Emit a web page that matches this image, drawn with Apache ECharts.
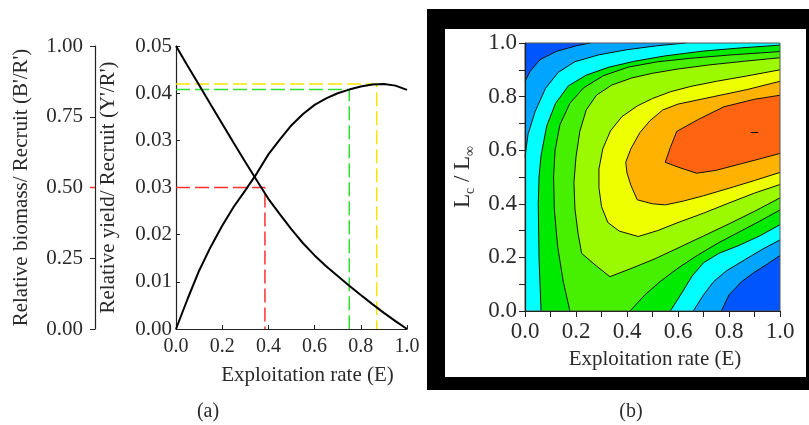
<!DOCTYPE html>
<html>
<head>
<meta charset="utf-8">
<script src="https://cdn.jsdelivr.net/npm/echarts/dist/echarts.min.js"></script>
<style>
html, body { margin: 0; padding: 0; background: #fff; }
#chart { width: 809px; height: 425px; }
</style>
</head>
<body>
<div id="chart"></div>
<script>
// (a) relative yield and biomass per recruit vs exploitation rate
var exploitation = [0, 0.05, 0.1, 0.15, 0.2, 0.25, 0.3, 0.35, 0.4, 0.45, 0.5,
                    0.55, 0.6, 0.65, 0.7, 0.75, 0.8, 0.85, 0.9, 0.95, 1.0];
var biomassPerRecruit = [1.0, 0.93, 0.862, 0.793, 0.725, 0.657, 0.59, 0.525, 0.46, 0.405, 0.352,
                         0.303, 0.26, 0.222, 0.187, 0.153, 0.12, 0.088, 0.057, 0.028, 0.0];
var yieldPerRecruit = [0, 0.0053, 0.0103, 0.0145, 0.01825, 0.0216, 0.0245, 0.0275, 0.03085, 0.0335, 0.036,
                       0.038, 0.0396, 0.04075, 0.04165, 0.0423, 0.04285, 0.0432, 0.0433, 0.043, 0.04225];
var yieldTickLabels = ['0.00', '0.01', '0.02', '0.03', '0.03', '0.04', '0.05'];
var yieldStep = 0.05 / 6;

// reference points: E50 (red), E0.1 (green), Emax (yellow)
var e50 = 0.385, e50Yield = 0.025, e50Biomass = 0.5;
var e10 = 0.75, e10Yield = 0.0423;
var eMax = 0.869, eMaxYield = 0.0433;

// (b) isopleths of Y'/R', points read as [E, Lc/Linf]
var c1Top = [[0, 0.857], [0.02, 0.894], [0.059, 0.938], [0.124, 0.969], [0.203, 0.99], [0.255, 1]];
var c1Bot = [[0.77, 0], [0.8, 0.06], [0.85, 0.11], [0.9, 0.145], [0.95, 0.175], [1, 0.207]];
var c2Top = [[0, 0.575], [0.012, 0.66], [0.04, 0.745], [0.08, 0.83], [0.13, 0.89], [0.195, 0.93],
             [0.29, 0.956], [0.4, 0.975], [0.52, 0.99], [0.63, 1]];
var c2Bot = [[0.66, 0], [0.7, 0.06], [0.74, 0.11], [0.79, 0.15], [0.86, 0.19], [0.93, 0.23], [1, 0.265]];
var c3Top = [[0.063, 0], [0.055, 0.2], [0.052, 0.4], [0.055, 0.5], [0.063, 0.58], [0.085, 0.69],
             [0.12, 0.775], [0.17, 0.84], [0.24, 0.88], [0.33, 0.91], [0.43, 0.932], [0.55, 0.952],
             [0.7, 0.97], [0.85, 0.982], [1, 0.992]];
var c3Bot = [[0.57, 0], [0.61, 0.06], [0.655, 0.13], [0.7, 0.18], [0.76, 0.215], [0.84, 0.245],
             [0.92, 0.28], [1, 0.322]];
var c4Top = [[0.176, 0], [0.15, 0.11], [0.128, 0.24], [0.115, 0.38], [0.112, 0.5], [0.118, 0.6],
             [0.137, 0.695], [0.176, 0.775], [0.229, 0.832], [0.307, 0.878], [0.405, 0.91],
             [0.52, 0.93], [0.65, 0.943], [0.8, 0.955], [1, 0.968]];
var c4Bot = [[0.412, 0], [0.47, 0.06], [0.53, 0.11], [0.6, 0.16], [0.68, 0.21], [0.76, 0.255],
             [0.84, 0.295], [0.92, 0.335], [1, 0.377]];
var c5 = [[1, 0.945], [0.86, 0.932], [0.72, 0.918], [0.6, 0.903], [0.5, 0.887], [0.42, 0.87],
          [0.34, 0.843], [0.28, 0.805], [0.24, 0.75], [0.215, 0.67], [0.2, 0.575], [0.192, 0.48],
          [0.196, 0.38], [0.208, 0.29], [0.222, 0.215], [0.28, 0.168], [0.333, 0.128], [0.42, 0.16],
          [0.51, 0.195], [0.6, 0.235], [0.7, 0.28], [0.8, 0.325], [0.9, 0.372], [1, 0.422]];
var c6 = [[1, 0.9], [0.87, 0.877], [0.75, 0.857], [0.65, 0.838], [0.57, 0.818], [0.5, 0.793],
          [0.44, 0.765], [0.38, 0.725], [0.335, 0.672], [0.305, 0.605], [0.29, 0.53], [0.29, 0.46],
          [0.3, 0.39], [0.325, 0.33], [0.37, 0.298], [0.444, 0.278], [0.52, 0.3], [0.6, 0.33],
          [0.7, 0.365], [0.8, 0.403], [0.9, 0.44], [1, 0.472]];
var c7 = [[1, 0.857], [0.87, 0.826], [0.74, 0.8], [0.6, 0.772], [0.54, 0.75], [0.49, 0.71],
          [0.45, 0.665], [0.415, 0.605], [0.395, 0.555], [0.4, 0.515], [0.415, 0.47], [0.44, 0.415],
          [0.5, 0.4], [0.55, 0.396], [0.62, 0.41], [0.7, 0.43], [0.8, 0.458], [0.9, 0.487], [1, 0.517]];
var c8 = [[1, 0.805], [0.9, 0.79], [0.78, 0.762], [0.68, 0.715], [0.595, 0.67], [0.57, 0.61],
          [0.55, 0.555], [0.6, 0.537], [0.673, 0.514], [0.75, 0.525], [0.85, 0.55], [0.93, 0.57],
          [1, 0.588]];
var peakMark = [[0.885, 0.666], [0.915, 0.666]];
var bandColors = ['#0055FF', '#00A5FF', '#00FFFF', '#00EA00', '#46F000', '#9BFA00', '#EEFF00', '#FFB200', '#FF6410'];

var serif = 'Liberation Serif';
var ink = '#2a2a2a';

function pairs(xs, ys) {
    return xs.map(function (x, i) { return [x, ys[i]]; });
}

function region(points, color) {
    return {
        type: 'custom', xAxisIndex: 1, yAxisIndex: 2, silent: true, clip: true,
        data: [0],
        renderItem: function (params, api) {
            return {
                type: 'polygon',
                shape: { points: points.map(function (p) { return api.coord(p); }) },
                style: { fill: color }
            };
        }
    };
}

function isoline(points) {
    return {
        type: 'line', xAxisIndex: 1, yAxisIndex: 2, data: points,
        showSymbol: false, silent: true, clip: true,
        lineStyle: { color: '#111', width: 1 }
    };
}

function dashed(points, color) {
    return {
        type: 'line', xAxisIndex: 0, yAxisIndex: 0, data: points,
        showSymbol: false, silent: true,
        lineStyle: { color: color, width: 1.5, type: [14, 5] }
    };
}

var regionShapes = [
    [[0, 0], [1, 0], [1, 1], [0, 1]],
    c1Top.concat([[1, 1]], c1Bot.slice().reverse(), [[0, 0]]),
    c2Top.concat([[1, 1]], c2Bot.slice().reverse(), [[0, 0]]),
    c3Top.concat(c3Bot.slice().reverse()),
    c4Top.concat(c4Bot.slice().reverse()),
    c5, c6, c7, c8
];

var series = [];
regionShapes.forEach(function (shape, i) {
    series.push(region(shape, bandColors[i]));
});
[c1Top, c1Bot, c2Top, c2Bot, c3Top, c3Bot, c4Top, c4Bot, c5, c6, c7, c8, peakMark].forEach(function (c) {
    series.push(isoline(c));
});
// plot frame of (b)
series.push({
    type: 'custom', xAxisIndex: 1, yAxisIndex: 2, silent: true, clip: false, data: [0], z: 5,
    renderItem: function (params, api) {
        return {
            type: 'polygon',
            shape: { points: [[0, 0], [1, 0], [1, 1], [0, 1]].map(function (p) { return api.coord(p); }) },
            style: { fill: null, stroke: '#555', lineWidth: 1 }
        };
    }
});

series.push(dashed([[0, e50Yield], [e50, e50Yield], [e50, 0]], '#FF3030'));
series.push(dashed([[0, e10Yield], [e10, e10Yield], [e10, 0]], '#33DD33'));
series.push(dashed([[0, eMaxYield], [eMax, eMaxYield], [eMax, 0]], '#F5E600'));
series.push({
    type: 'line', xAxisIndex: 0, yAxisIndex: 1, data: pairs(exploitation, biomassPerRecruit),
    showSymbol: false, silent: true, lineStyle: { color: '#000', width: 2 }
});
series.push({
    type: 'line', xAxisIndex: 0, yAxisIndex: 0, data: pairs(exploitation, yieldPerRecruit),
    showSymbol: false, silent: true, lineStyle: { color: '#000', width: 2 }
});
// red mark on the biomass axis at B'/R' = 0.5
series.push({
    type: 'line', xAxisIndex: 2, yAxisIndex: 3, data: [[0, e50Biomass], [1, e50Biomass]],
    showSymbol: false, silent: true, lineStyle: { color: '#FF3030', width: 1.5 }
});

var option = {
    animation: false,
    backgroundColor: '#fff',
    grid: [
        { left: 176, top: 46, width: 231, height: 283, outerBoundsMode: 'none' },
        { left: 525, top: 43, width: 255, height: 268, outerBoundsMode: 'none' },
        { left: 90, top: 46, width: 5, height: 283, outerBoundsMode: 'none' }
    ],
    xAxis: [
        {
            gridIndex: 0, type: 'value', min: 0, max: 1, interval: 0.2,
            axisLine: { lineStyle: { color: '#222', width: 1.2 } },
            axisTick: { inside: true, length: 4, lineStyle: { color: '#222' } },
            splitLine: { show: false },
            axisLabel: { color: ink, fontFamily: serif, fontSize: 20, margin: 8,
                         formatter: function (v) { return v.toFixed(1); } },
            name: 'Exploitation rate (E)', nameLocation: 'middle', nameGap: 36,
            nameTextStyle: { color: ink, fontFamily: serif, fontSize: 21, padding: [0, 0, 0, 32] }
        },
        {
            gridIndex: 1, type: 'value', min: 0, max: 1, interval: 0.2, z: 10,
            axisLine: { lineStyle: { color: '#222', width: 1.2 } },
            axisTick: { length: 6, lineStyle: { color: '#222' } },
            minorTick: { show: true, splitNumber: 2, length: 6, lineStyle: { color: '#222' } },
            splitLine: { show: false },
            axisLabel: { color: ink, fontFamily: serif, fontSize: 23, margin: 9,
                         formatter: function (v) { return v.toFixed(1); } },
            name: 'Exploitation rate (E)', nameLocation: 'middle', nameGap: 38,
            nameTextStyle: { color: ink, fontFamily: serif, fontSize: 21, padding: [0, 0, 0, 5] }
        },
        { gridIndex: 2, type: 'value', min: 0, max: 1, show: false }
    ],
    yAxis: [
        {
            gridIndex: 0, type: 'value', min: 0, max: 0.05, interval: yieldStep, position: 'left',
            axisLine: { show: true, lineStyle: { color: '#222', width: 1.2 } },
            axisTick: { show: true, inside: true, length: 4, lineStyle: { color: '#222' } },
            splitLine: { show: false },
            axisLabel: { color: ink, fontFamily: serif, fontSize: 21, margin: 4,
                         formatter: function (v) { return yieldTickLabels[Math.round(v / yieldStep)]; } },
            name: "Relative yield/ Recruit (Y'/R')", nameLocation: 'middle', nameGap: 57,
            nameTextStyle: { color: ink, fontFamily: serif, fontSize: 21 }
        },
        {
            gridIndex: 0, type: 'value', min: 0, max: 1, interval: 0.25, position: 'left', offset: 81,
            axisLine: { show: true, lineStyle: { color: '#222', width: 1.2 } },
            axisTick: { show: true, length: 5, lineStyle: { color: '#222' } },
            splitLine: { show: false },
            axisLabel: { color: ink, fontFamily: serif, fontSize: 21, margin: 12,
                         formatter: function (v) { return v.toFixed(2); } },
            name: "Relative biomass/ Recruit (B'/R')", nameLocation: 'middle', nameGap: 63,
            nameTextStyle: { color: ink, fontFamily: serif, fontSize: 21 }
        },
        {
            gridIndex: 1, type: 'value', min: 0, max: 1, interval: 0.2, z: 10,
            axisLine: { show: true, lineStyle: { color: '#222', width: 1.2 } },
            axisTick: { show: true, length: 6, lineStyle: { color: '#222' } },
            minorTick: { show: true, splitNumber: 2, length: 6, lineStyle: { color: '#222' } },
            splitLine: { show: false },
            axisLabel: { color: ink, fontFamily: serif, fontSize: 23, margin: 8,
                         formatter: function (v) { return v.toFixed(1); } },
            name: '{l|L}{s|c}{l| / L}{s|∞}', nameLocation: 'middle', nameGap: 50,
            nameTextStyle: {
                color: ink, fontFamily: serif,
                rich: {
                    l: { fontFamily: serif, fontSize: 23, color: ink, verticalAlign: 'top', lineHeight: 24 },
                    s: { fontFamily: serif, fontSize: 14, color: ink, verticalAlign: 'top', lineHeight: 14, padding: [12, 0, 0, 0] }
                }
            }
        },
        { gridIndex: 2, type: 'value', min: 0, max: 1, show: false }
    ],
    graphic: [
        { type: 'rect', shape: { x: 427, y: 9, width: 382, height: 20 }, style: { fill: '#000' } },
        { type: 'rect', shape: { x: 427, y: 9, width: 18, height: 381 }, style: { fill: '#000' } },
        { type: 'rect', shape: { x: 427, y: 377, width: 382, height: 13 }, style: { fill: '#000' } },
        { type: 'rect', shape: { x: 806, y: 9, width: 3, height: 381 }, style: { fill: '#000' } },
        { type: 'text', x: 208, y: 412, style: { text: '(a)', font: '20px "Liberation Serif"', fill: ink, textAlign: 'center', textVerticalAlign: 'middle' } },
        { type: 'text', x: 631, y: 412, style: { text: '(b)', font: '20px "Liberation Serif"', fill: ink, textAlign: 'center', textVerticalAlign: 'middle' } }
    ],
    series: series
};

var chart = echarts.init(document.getElementById('chart'));
chart.setOption(option);
</script>
</body>
</html>
